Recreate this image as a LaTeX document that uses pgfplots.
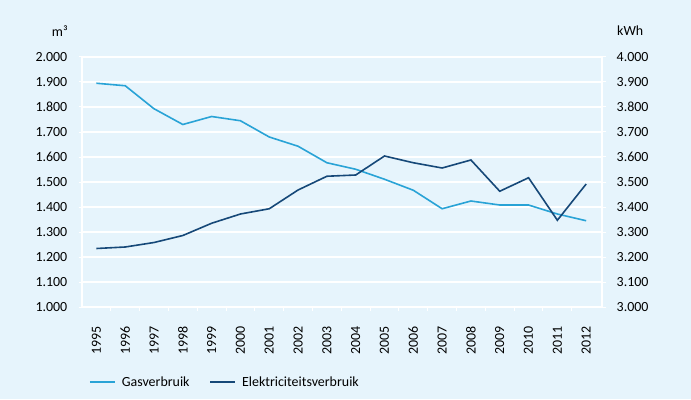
\documentclass[border=0pt]{standalone}
\usepackage{pgfplots}
\pgfplotsset{compat=1.18}
\usepackage{fontspec}
\setmainfont{Carlito}
\definecolor{bg}{RGB}{230,244,252}
\definecolor{gas}{RGB}{41,163,214}
\definecolor{elec}{RGB}{22,72,120}
\newcommand\fs{\fontsize{14}{16}\selectfont}
\begin{document}
\begin{tikzpicture}[x=1bp,y=1bp]
\fill[bg] (0,0) rectangle (691,399);
\pgfplotsset{
  common/.style={
    at={(82bp,92bp)}, anchor=south west, scale only axis,
    width=520bp, height=250bp,
    xmin=1994.5, xmax=2012.55,
    axis line style={white, line width=1.3bp},
    tick style={white, line width=1bp},
    major tick length=3.5bp, tick align=outside,
    font=\fs,
    /pgf/number format/assume math mode=true,
    /pgf/number format/.cd, fixed, 1000 sep={.}, precision=0,
  },
}
\begin{axis}[common,
  axis x line*=bottom, axis y line*=left,
  ymin=1000, ymax=2000, ytick={1000,1100,...,2000},
  ymajorgrids, grid style={white, line width=1.3bp},
  xtick={1995,...,2012}, xticklabels={1995,1996,1997,1998,1999,2000,2001,2002,2003,2004,2005,2006,2007,2008,2009,2010,2011,2012},
  major x tick style={draw=none},
  minor xtick={1995.5,1996.5,...,2011.5},
  minor x tick style={white, line width=1bp}, minor tick length=3.5bp,
  xticklabel style={rotate=90, anchor=east, inner sep=0pt},
  xticklabel shift=16bp,
  yticklabel style={anchor=east, inner sep=0pt},
  yticklabel shift=11bp,
  legend style={at={(0.0,-0.30)}, anchor=west, xshift=4bp, draw=none, fill=none,
    legend columns=2, font=\fs,
    /tikz/every even column/.append style={column sep=18bp}},
  legend cell align=left,
  legend image code/.code={\draw[#1] (0bp,0bp) -- (25bp,0bp); \path (29bp,0bp);},
]
\addplot[gas, line width=1.6bp] coordinates {
(1995,1895) (1996,1885) (1997,1793) (1998,1730) (1999,1762) (2000,1745)
(2001,1680) (2002,1643) (2003,1577) (2004,1551) (2005,1511) (2006,1467)
(2007,1393) (2008,1424) (2009,1408) (2010,1408) (2011,1372) (2012,1345)};
\addlegendentry{Gasverbruik}
\addlegendimage{elec, line width=1.6bp}
\addlegendentry{Elektriciteitsverbruik}
\end{axis}
\begin{axis}[common,
  axis y line*=right, axis x line=none,
  ymin=3000, ymax=4000, ytick={3000,3100,...,4000},
  yticklabel style={anchor=west, inner sep=0pt},
  yticklabel shift=11bp,
]
\addplot[elec, line width=1.6bp] coordinates {
(1995,3234) (1996,3240) (1997,3258) (1998,3286) (1999,3335) (2000,3372)
(2001,3393) (2002,3468) (2003,3523) (2004,3528) (2005,3604) (2006,3577)
(2007,3556) (2008,3588) (2009,3463) (2010,3517) (2011,3347) (2012,3492)};
\end{axis}
\node[anchor=east, inner sep=0pt, font=\fs] at (68,368) {m³};
\node[anchor=west, inner sep=0pt, font=\fs] at (617,368) {kWh};
\end{tikzpicture}
\end{document}
